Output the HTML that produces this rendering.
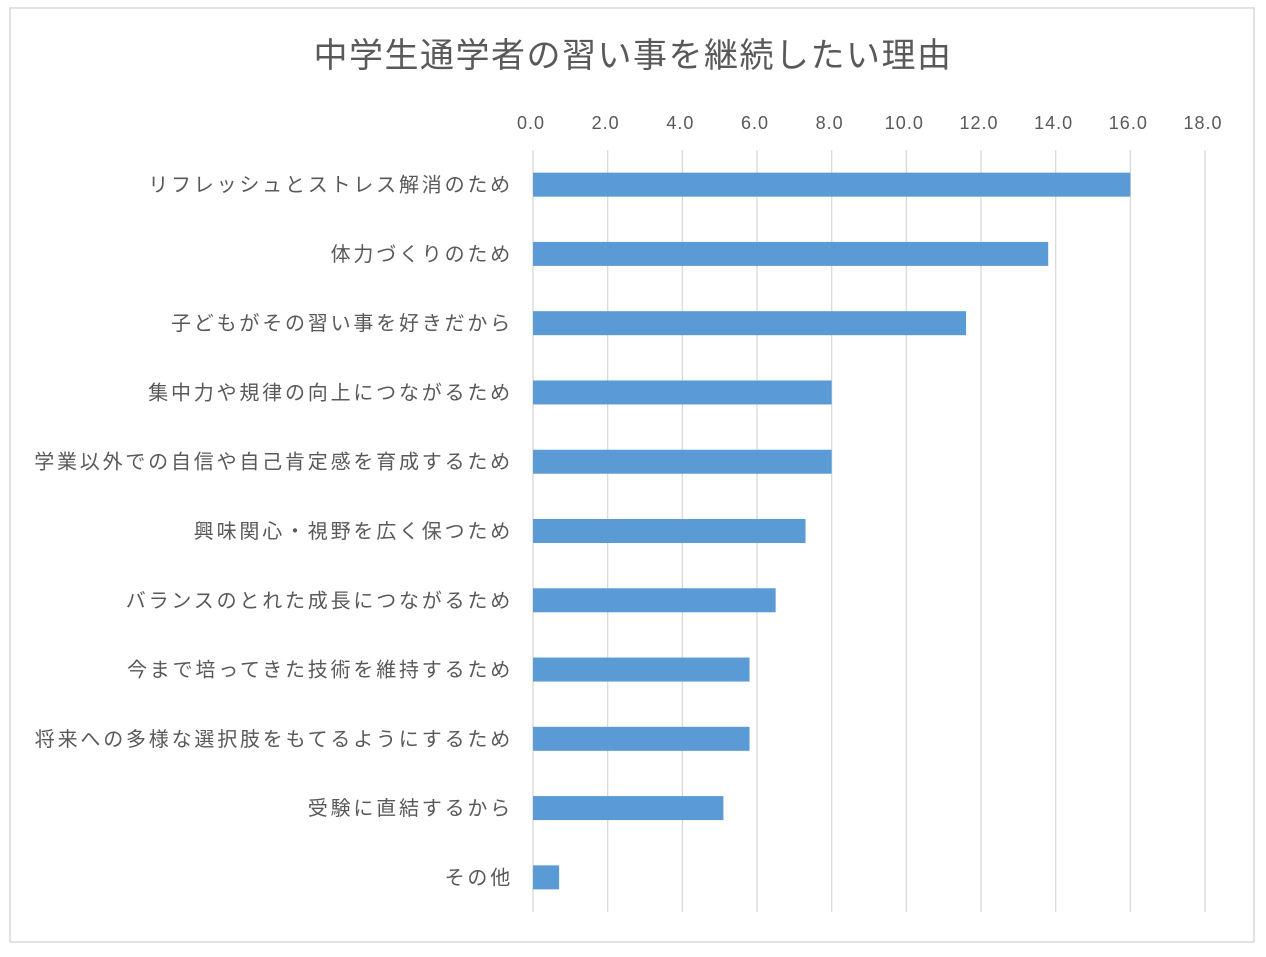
<!DOCTYPE html>
<html><head><meta charset="utf-8"><style>
html,body{margin:0;padding:0;background:#fff;}
svg text{font-family:"Liberation Sans","Noto Sans CJK JP",sans-serif;fill:#595959;}
</style></head><body>
<svg id="chart" width="1266" height="952" xmlns="http://www.w3.org/2000/svg">
<rect x="10" y="8" width="1244" height="934" fill="#fff" stroke="#d9d9d9" stroke-width="1.5"/>
<text x="633" y="67" font-size="34" letter-spacing="1.5" text-anchor="middle">中学生通学者の習い事を継続したい理由</text>
<g id="grid"></g><g id="ticks"></g><g id="bars"></g><g id="cats"></g>
</svg>
<script>
const categories=["リフレッシュとストレス解消のため","体力づくりのため","子どもがその習い事を好きだから","集中力や規律の向上につながるため","学業以外での自信や自己肯定感を育成するため","興味関心・視野を広く保つため","バランスのとれた成長につながるため","今まで培ってきた技術を維持するため","将来への多様な選択肢をもてるようにするため","受験に直結するから","その他"];
const values=[16.0,13.8,11.6,8.0,8.0,7.3,6.5,5.8,5.8,5.1,0.7];
const tickValues=[0,2,4,6,8,10,12,14,16,18];
const tickLabels=["0.0","2.0","4.0","6.0","8.0","10.0","12.0","14.0","16.0","18.0"];
const NS="http://www.w3.org/2000/svg";
const x0=533,x1=1205,xMax=18,yTop=150,yBot=912;
const band=(yBot-yTop)/categories.length;
const xs=v=>x0+(x1-x0)*v/xMax;
const ys=i=>yTop+band*(i+0.5);
function mk(tag,attrs,parent){const e=document.createElementNS(NS,tag);for(const k in attrs)e.setAttribute(k,attrs[k]);document.getElementById(parent).appendChild(e);return e;}
tickValues.forEach((t,i)=>{
  const l=mk('line',{x1:xs(t),x2:xs(t),y1:yTop,y2:yBot,stroke:'#d9d9d9','stroke-width':1.3},'grid');
  
  
  const tx=mk('text',{x:xs(t)-2,y:129,'font-size':18,'letter-spacing':1,'text-anchor':'middle'},'ticks');
  tx.textContent=tickLabels[i];
  
  
});
categories.forEach((c,i)=>{
  const r=mk('rect',{x:x0,y:ys(i)-12,width:xs(values[i])-x0,height:24,fill:'#5b9bd5'},'bars');
  
  
  const t=mk('text',{x:513,y:ys(i)+7,'font-size':20,'letter-spacing':2.8,'text-anchor':'end'},'cats');
  t.textContent=c;
  
  
});
</script>
</body></html>
